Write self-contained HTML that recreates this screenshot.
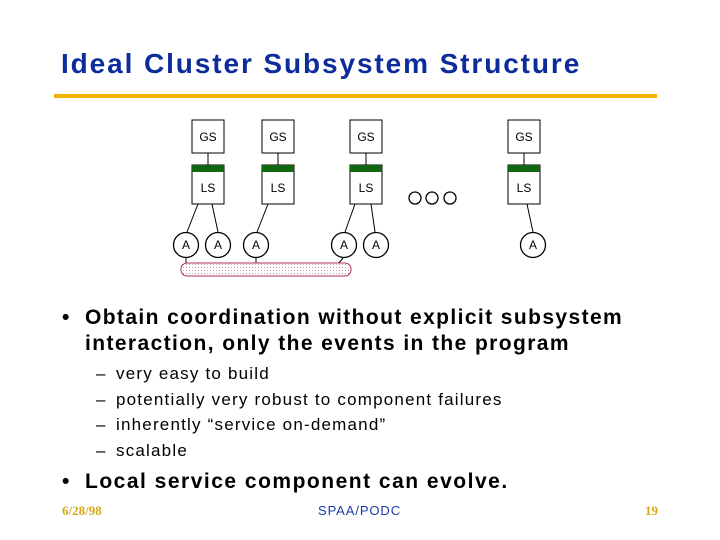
<!DOCTYPE html>
<html><head><style>
body{margin:0;width:720px;height:540px;background:#fff;position:relative;overflow:hidden;font-family:"Liberation Sans",Arial,sans-serif}
.a{position:absolute;white-space:nowrap}
</style></head><body>
<div class="a" style="left:61px;top:48px;font-size:28px;font-weight:bold;color:#0d2c9c;letter-spacing:1.9px">Ideal Cluster Subsystem Structure</div>
<div class="a" style="left:54px;top:94px;width:603px;height:4px;background:#f0b400"></div>
<svg class="a" style="left:0;top:0" width="720" height="300">
<defs><pattern id="p" width="3" height="3" patternUnits="userSpaceOnUse"><rect width="3" height="3" fill="#fff"/><rect width="1" height="1" fill="#c89aa8"/></pattern></defs>
<g stroke="#000" stroke-width="1" fill="#fff" font-family="Liberation Sans,Arial,sans-serif" font-size="12">
<rect x="192" y="120" width="32" height="33"/><rect x="262" y="120" width="32" height="33"/><rect x="350" y="120" width="32" height="33"/><rect x="508" y="120" width="32" height="33"/>
<line x1="208" y1="153" x2="208" y2="165"/><line x1="278" y1="153" x2="278" y2="165"/><line x1="366" y1="153" x2="366" y2="165"/><line x1="524" y1="153" x2="524" y2="165"/>
<rect x="192" y="165" width="32" height="39"/><rect x="262" y="165" width="32" height="39"/><rect x="350" y="165" width="32" height="39"/><rect x="508" y="165" width="32" height="39"/>
<g fill="#116611" stroke="none"><rect x="192" y="165" width="32" height="7"/><rect x="262" y="165" width="32" height="7"/><rect x="350" y="165" width="32" height="7"/><rect x="508" y="165" width="32" height="7"/></g>
<line x1="198" y1="204" x2="187" y2="232"/><line x1="212" y1="204" x2="218" y2="232"/><line x1="268" y1="204" x2="257" y2="232"/><line x1="355" y1="204" x2="345" y2="232"/><line x1="371" y1="204" x2="375" y2="232"/><line x1="527" y1="204" x2="533" y2="232"/>
<line x1="186" y1="258" x2="186" y2="264"/><line x1="256" y1="258" x2="256" y2="264"/><line x1="343" y1="258" x2="338" y2="264"/>
<rect x="181" y="263" width="170" height="13" rx="6" fill="url(#p)" stroke="#b03050"/>
<g stroke-width="1.3"><circle cx="186" cy="245" r="12.5"/><circle cx="218" cy="245" r="12.5"/><circle cx="256" cy="245" r="12.5"/><circle cx="344" cy="245" r="12.5"/><circle cx="376" cy="245" r="12.5"/><circle cx="533" cy="245" r="12.5"/>
<circle cx="415" cy="198" r="6"/><circle cx="432" cy="198" r="6"/><circle cx="450" cy="198" r="6"/></g>
<g fill="#000" stroke="none" text-anchor="middle">
<text x="208" y="141">GS</text><text x="278" y="141">GS</text><text x="366" y="141">GS</text><text x="524" y="141">GS</text>
<text x="208" y="192">LS</text><text x="278" y="192">LS</text><text x="366" y="192">LS</text><text x="524" y="192">LS</text>
<text x="186" y="249">A</text><text x="218" y="249">A</text><text x="256" y="249">A</text><text x="344" y="249">A</text><text x="376" y="249">A</text><text x="533" y="249">A</text>
</g></g></svg>
<div class="a" style="left:62px;top:305px;font-size:21px;font-weight:bold;line-height:26px">•</div>
<div class="a" style="left:85px;top:305px;font-size:21px;font-weight:bold;line-height:26px;letter-spacing:1.4px">Obtain coordination without explicit subsystem<br>interaction, only the events in the program</div>
<div class="a" style="left:96px;top:361px;font-size:17px;line-height:25.7px">–<br>–<br>–<br>–</div>
<div class="a" style="left:116px;top:361px;font-size:17px;line-height:25.7px;letter-spacing:1.2px">very easy to build<br>potentially very robust to component failures<br>inherently “service on-demand”<br>scalable</div>
<div class="a" style="left:62px;top:469px;font-size:21px;font-weight:bold;line-height:26px">•</div>
<div class="a" style="left:85px;top:469px;font-size:21px;font-weight:bold;line-height:26px;letter-spacing:1.5px">Local service component can evolve.</div>
<div class="a" style="left:62px;top:503px;font-size:13px;font-weight:bold;color:#d8a818;font-family:'Liberation Serif',serif">6/28/98</div>
<div class="a" style="left:318px;top:503px;font-size:13px;color:#1a3aa8;letter-spacing:0.9px">SPAA/PODC</div>
<div class="a" style="left:645px;top:503px;font-size:13px;font-weight:bold;color:#d8a818;font-family:'Liberation Serif',serif">19</div>
</body></html>
